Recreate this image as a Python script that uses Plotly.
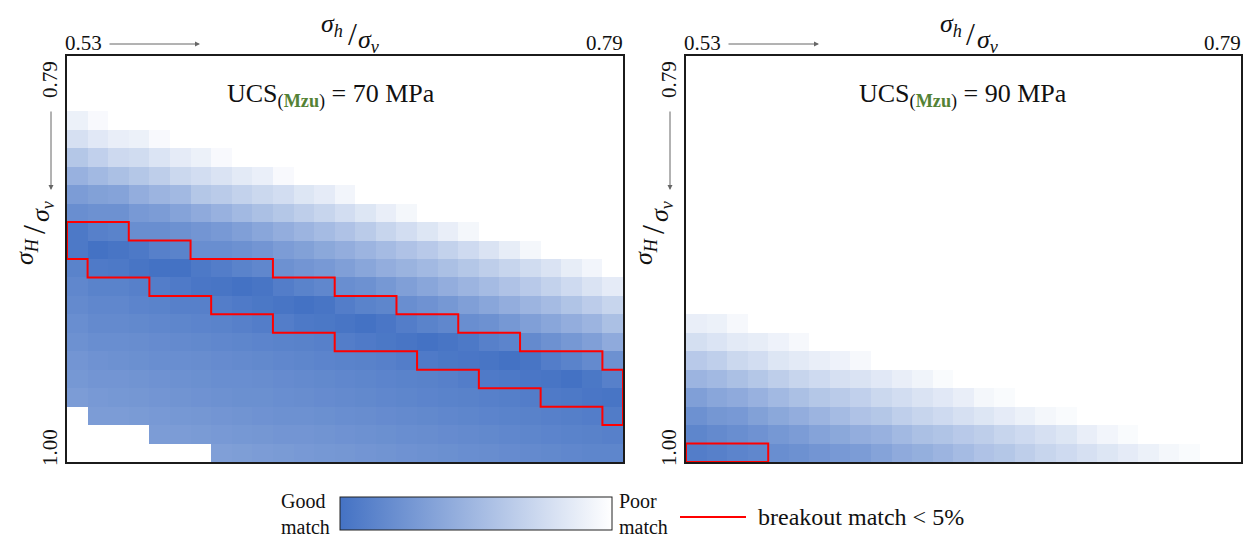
import plotly.graph_objects as go

N = None
W, H = 1252, 540

# ---- data -------------------------------------------------------------
sh_sv = [0.53, 0.54, 0.55, 0.56, 0.57, 0.58, 0.59, 0.60, 0.61, 0.62, 0.63, 0.64, 0.65, 0.66,
         0.67, 0.68, 0.69, 0.70, 0.71, 0.72, 0.73, 0.74, 0.75, 0.76, 0.77, 0.78, 0.79]
sH_sv = [0.79, 0.80, 0.81, 0.82, 0.83, 0.84, 0.85, 0.86, 0.87, 0.88, 0.89,
         0.90, 0.91, 0.92, 0.93, 0.94, 0.95, 0.96, 0.97, 0.98, 0.99, 1.00]

# mismatch (0 = good match, 1 = poor match), rows follow sH_sv, columns follow sh_sv
ucs70 = [
    [N] * 27,
    [N] * 27,
    [N] * 27,
    [0.90, 0.96] + [N] * 25,
    [0.78, 0.84, 0.88, 0.90, 0.96] + [N] * 22,
    [0.60, 0.67, 0.73, 0.75, 0.81, 0.86, 0.90, 0.96] + [N] * 19,
    [0.45, 0.50, 0.55, 0.60, 0.65, 0.72, 0.76, 0.80, 0.85, 0.89, 0.96] + [N] * 16,
    [0.30, 0.33, 0.35, 0.42, 0.47, 0.50, 0.60, 0.63, 0.68, 0.72, 0.76, 0.82, 0.86, 0.93] + [N] * 13,
    [0.20, 0.22, 0.22, 0.28, 0.30, 0.35, 0.40, 0.45, 0.50, 0.55, 0.60, 0.65, 0.70, 0.76, 0.82,
     0.88, 0.94] + [N] * 10,
    [0.05, 0.10, 0.12, 0.20, 0.20, 0.22, 0.25, 0.28, 0.32, 0.37, 0.42, 0.47, 0.52, 0.57, 0.63,
     0.70, 0.76, 0.82, 0.88, 0.94] + [N] * 7,
    [0.05, 0.00, 0.02, 0.05, 0.10, 0.12, 0.20, 0.20, 0.22, 0.25, 0.30, 0.33, 0.38, 0.42, 0.47,
     0.52, 0.57, 0.62, 0.68, 0.74, 0.80, 0.87, 0.94] + [N] * 4,
    [0.12, 0.06, 0.05, 0.02, 0.00, 0.00, 0.05, 0.08, 0.12, 0.15, 0.22, 0.25, 0.28, 0.32, 0.37,
     0.42, 0.46, 0.50, 0.55, 0.60, 0.65, 0.70, 0.75, 0.80, 0.87, 0.93, N],
    [0.15, 0.12, 0.12, 0.10, 0.08, 0.06, 0.03, 0.02, 0.00, 0.02, 0.08, 0.12, 0.15, 0.20, 0.22,
     0.27, 0.32, 0.37, 0.42, 0.47, 0.52, 0.57, 0.62, 0.68, 0.74, 0.80, 0.86],
    [0.17, 0.15, 0.15, 0.13, 0.12, 0.10, 0.10, 0.08, 0.06, 0.04, 0.02, 0.00, 0.02, 0.08, 0.12,
     0.14, 0.20, 0.23, 0.27, 0.32, 0.37, 0.42, 0.47, 0.52, 0.58, 0.64, 0.70],
    [0.20, 0.17, 0.17, 0.16, 0.15, 0.14, 0.13, 0.12, 0.10, 0.08, 0.08, 0.05, 0.04, 0.02, 0.00,
     0.03, 0.08, 0.12, 0.15, 0.20, 0.22, 0.27, 0.32, 0.37, 0.42, 0.47, 0.55],
    [0.22, 0.20, 0.20, 0.19, 0.18, 0.17, 0.16, 0.15, 0.14, 0.13, 0.12, 0.11, 0.10, 0.08, 0.06,
     0.04, 0.02, 0.00, 0.02, 0.05, 0.10, 0.13, 0.17, 0.22, 0.27, 0.32, 0.40],
    [0.25, 0.23, 0.22, 0.21, 0.20, 0.20, 0.19, 0.18, 0.17, 0.16, 0.15, 0.14, 0.13, 0.12, 0.11,
     0.10, 0.08, 0.06, 0.04, 0.03, 0.02, 0.00, 0.02, 0.08, 0.12, 0.17, 0.22],
    [0.27, 0.25, 0.25, 0.24, 0.23, 0.22, 0.21, 0.20, 0.20, 0.19, 0.18, 0.17, 0.16, 0.15, 0.14,
     0.13, 0.12, 0.11, 0.10, 0.08, 0.06, 0.05, 0.03, 0.02, 0.00, 0.04, 0.10],
    [0.30, 0.28, 0.27, 0.26, 0.25, 0.24, 0.23, 0.22, 0.21, 0.21, 0.20, 0.19, 0.18, 0.17, 0.16,
     0.15, 0.14, 0.13, 0.12, 0.11, 0.10, 0.09, 0.08, 0.06, 0.05, 0.03, 0.02],
    [N, 0.30, 0.30, 0.29, 0.28, 0.27, 0.26, 0.25, 0.24, 0.23, 0.22, 0.22, 0.21, 0.20, 0.19,
     0.18, 0.17, 0.16, 0.15, 0.14, 0.13, 0.12, 0.11, 0.10, 0.09, 0.08, 0.07],
    [N, N, N, N, 0.30, 0.30, 0.29, 0.28, 0.27, 0.26, 0.25, 0.25, 0.24, 0.23, 0.22,
     0.21, 0.20, 0.19, 0.18, 0.17, 0.16, 0.15, 0.14, 0.13, 0.12, 0.11, 0.10],
    [N, N, N, N, N, N, N, 0.32, 0.31, 0.30, 0.29, 0.28, 0.27, 0.26, 0.25,
     0.24, 0.23, 0.22, 0.21, 0.20, 0.19, 0.18, 0.17, 0.16, 0.15, 0.14, 0.14],
]

ucs90 = [[N] * 27 for _ in range(14)] + [
    [0.88, 0.90, 0.95] + [N] * 24,
    [0.77, 0.81, 0.85, 0.87, 0.91, 0.95] + [N] * 21,
    [0.62, 0.66, 0.72, 0.76, 0.82, 0.85, 0.88, 0.91, 0.95] + [N] * 18,
    [0.47, 0.50, 0.55, 0.60, 0.65, 0.70, 0.74, 0.78, 0.80, 0.84, 0.88, 0.92, 0.97] + [N] * 14,
    [0.32, 0.37, 0.40, 0.45, 0.50, 0.55, 0.60, 0.63, 0.67, 0.72, 0.76, 0.80, 0.84, 0.88,
     0.94, 0.97] + [N] * 11,
    [0.22, 0.26, 0.28, 0.33, 0.38, 0.42, 0.47, 0.52, 0.57, 0.60, 0.66, 0.70, 0.74, 0.78,
     0.82, 0.86, 0.90, 0.94, 0.97] + [N] * 8,
    [0.14, 0.17, 0.20, 0.23, 0.27, 0.30, 0.35, 0.38, 0.42, 0.45, 0.50, 0.55, 0.58, 0.62,
     0.65, 0.70, 0.74, 0.78, 0.82, 0.88, 0.93, 0.97] + [N] * 5,
    [0.08, 0.10, 0.13, 0.15, 0.20, 0.22, 0.25, 0.28, 0.30, 0.35, 0.40, 0.43, 0.47, 0.52,
     0.57, 0.60, 0.65, 0.70, 0.74, 0.78, 0.82, 0.86, 0.90, 0.94, 0.97] + [N] * 2,
]

# breakout match < 5 %: first and last sH/sv of the matching band, per sh/sv column
band70_first = [0.88, 0.88, 0.88, 0.89, 0.89, 0.89, 0.90, 0.90, 0.90, 0.90, 0.91, 0.91, 0.91,
                0.92, 0.92, 0.92, 0.93, 0.93, 0.93, 0.94, 0.94, 0.94, 0.95, 0.95, 0.95, 0.95, 0.96]
band70_last = [0.89, 0.90, 0.90, 0.90, 0.91, 0.91, 0.91, 0.92, 0.92, 0.92, 0.93, 0.93, 0.93,
               0.94, 0.94, 0.94, 0.94, 0.95, 0.95, 0.95, 0.96, 0.96, 0.96, 0.97, 0.97, 0.97, 0.98]
band90_first = [1.00, 1.00, 1.00, 1.00] + [N] * 23
band90_last = [1.00, 1.00, 1.00, 1.00] + [N] * 23

panel_titles = ["70 MPa", "90 MPa"]

# ---- styling -------------------------------------------------------------
SERIF = "Liberation Serif"
BLUE = "#4472C4"
RED = "#FF0000"
GREEN = "#548235"
INK = "#111111"
colorscale = [[0.0, BLUE], [1.0, "#FFFFFF"]]


def px(x):
    return x / W


def py(y):
    return 1 - y / H


def font(size):
    return dict(family=SERIF, size=size, color=INK)


def outline(xs, first, last):
    dx = xs[1] - xs[0]
    dy = sH_sv[1] - sH_sv[0]
    top, bot = [], []
    for i, (f, l) in enumerate(zip(first, last)):
        if f is None:
            continue
        xl, xr = xs[i] - dx / 2, xs[i] + dx / 2
        top += [(xl, f - dy / 2), (xr, f - dy / 2)]
        bot += [(xl, l + dy / 2), (xr, l + dy / 2)]
    pts = top + bot[::-1] + [top[0]]
    return [p[0] for p in pts], [p[1] for p in pts]


panels = [
    dict(L=67, R=623, z=ucs70, first=band70_first, last=band70_last, title=panel_titles[0],
         ucs_x=331),
    dict(L=686, R=1241, z=ucs90, first=band90_first, last=band90_last, title=panel_titles[1],
         ucs_x=963),
]
TOP, BOT = 56, 462

fig = go.Figure()
annotations = []
layout_axes = {}

for k, p in enumerate(panels):
    xa = "x" if k == 0 else f"x{k + 1}"
    ya = "y" if k == 0 else f"y{k + 1}"
    hm = dict(
        x=sh_sv, y=sH_sv, z=p["z"], zmin=0, zmax=1, colorscale=colorscale,
        xaxis=xa, yaxis=ya, hoverongaps=False, showscale=(k == 0),
    )
    if k == 0:
        hm["colorbar"] = dict(
            orientation="h", lenmode="pixels", len=272, thickness=33,
            x=px(340), xanchor="left", y=py(497), yanchor="top",
            xpad=0, ypad=0, outlinewidth=1, outlinecolor="#222222",
            showticklabels=False, ticks="", borderwidth=0,
        )
    fig.add_trace(go.Heatmap(**hm))
    ox, oy = outline(sh_sv, p["first"], p["last"])
    fig.add_trace(go.Scatter(x=ox, y=oy, mode="lines", xaxis=xa, yaxis=ya,
                             line=dict(color=RED, width=2), showlegend=False,
                             hoverinfo="skip"))

    axstyle = dict(showgrid=False, zeroline=False, showticklabels=False, ticks="",
                   showline=True, mirror=True, linecolor="#1b1b1b", linewidth=2)
    xkey = "xaxis" if k == 0 else f"xaxis{k + 1}"
    ykey = "yaxis" if k == 0 else f"yaxis{k + 1}"
    layout_axes[xkey] = dict(domain=[px(p["L"]), px(p["R"])], anchor=ya,
                             range=[sh_sv[0] - 0.005, sh_sv[-1] + 0.005], **axstyle)
    layout_axes[ykey] = dict(domain=[py(BOT), py(TOP)], anchor=xa,
                             range=[sH_sv[-1] + 0.005, sH_sv[0] - 0.005], **axstyle)

    L, R = p["L"], p["R"]
    cx = (L + R) / 2
    # top axis texts
    annotations += [
        dict(x=px(L - 4), y=py(43), text="0.53", xanchor="left", yanchor="middle", font=font(21)),
        dict(x=px(R + 2), y=py(43), text="0.79", xanchor="right", yanchor="middle", font=font(21)),
        dict(x=px(L + 133), y=py(44), ax=-92, ay=0, text="", showarrow=True, arrowhead=2,
             arrowsize=1, arrowwidth=1, arrowcolor="#666666"),
        dict(x=px(cx - 13), y=py(25), text="<i>σ<sub>h</sub></i>", xanchor="center",
             yanchor="middle", font=font(26)),
        dict(x=px(cx + 7), y=py(34), text="/", xanchor="center", yanchor="middle",
             font=font(32)),
        dict(x=px(cx + 24), y=py(41), text="<i>σ<sub>v</sub></i>", xanchor="center",
             yanchor="middle", font=font(26)),
    ]
    # left axis texts
    annotations += [
        dict(x=px(L - 17), y=py(80), text="0.79", textangle=-90, xanchor="center",
             yanchor="middle", font=font(21)),
        dict(x=px(L - 17), y=py(448), text="1.00", textangle=-90, xanchor="center",
             yanchor="middle", font=font(21)),
        dict(x=px(L - 16), y=py(190), ax=0, ay=-80, text="", showarrow=True, arrowhead=2,
             arrowsize=1, arrowwidth=1, arrowcolor="#666666"),
        dict(x=px(L - 41), y=py(252), text="<i>σ<sub>H</sub></i>", textangle=-90,
             xanchor="center", yanchor="middle", font=font(26)),
        dict(x=px(L - 33), y=py(230), text="/", textangle=-90, xanchor="center",
             yanchor="middle", font=font(32)),
        dict(x=px(L - 25), y=py(211), text="<i>σ<sub>v</sub></i>", textangle=-90,
             xanchor="center", yanchor="middle", font=font(26)),
    ]
    # UCS label
    annotations.append(dict(
        x=px(p["ucs_x"]), y=py(95), xanchor="center", yanchor="middle",
        text=f"UCS<sub>(<b><span style='color:{GREEN}'>Mzu</span></b>)</sub> = {p['title']}",
        font=font(26)))

for a in annotations:
    a.setdefault("xref", "paper")
    a.setdefault("yref", "paper")
    a.setdefault("showarrow", False)
    if a.get("showarrow"):
        a["axref"] = "pixel"
        a["ayref"] = "pixel"

# bottom legend texts
annotations += [
    dict(x=px(332), y=py(514), xref="paper", yref="paper", text="Good<br>match",
         align="left", xanchor="right", yanchor="middle", showarrow=False, font=font(20)),
    dict(x=px(617), y=py(514), xref="paper", yref="paper", text="Poor<br>match",
         align="left", xanchor="left", yanchor="middle", showarrow=False, font=font(20)),
    dict(x=px(756), y=py(517), xref="paper", yref="paper", text="breakout match &lt; 5%",
         xanchor="left", yanchor="middle", showarrow=False, font=font(24)),
]

shapes = [
    dict(type="line", xref="paper", yref="paper", x0=px(680), x1=px(746), y0=py(517),
         y1=py(517), line=dict(color=RED, width=2)),
]

fig.update_layout(
    width=W, height=H, margin=dict(l=0, r=0, t=0, b=0),
    paper_bgcolor="white", plot_bgcolor="white",
    font=dict(family=SERIF, color=INK),
    showlegend=False, annotations=annotations, shapes=shapes,
    **layout_axes,
)

fig.write_html("out.html")
